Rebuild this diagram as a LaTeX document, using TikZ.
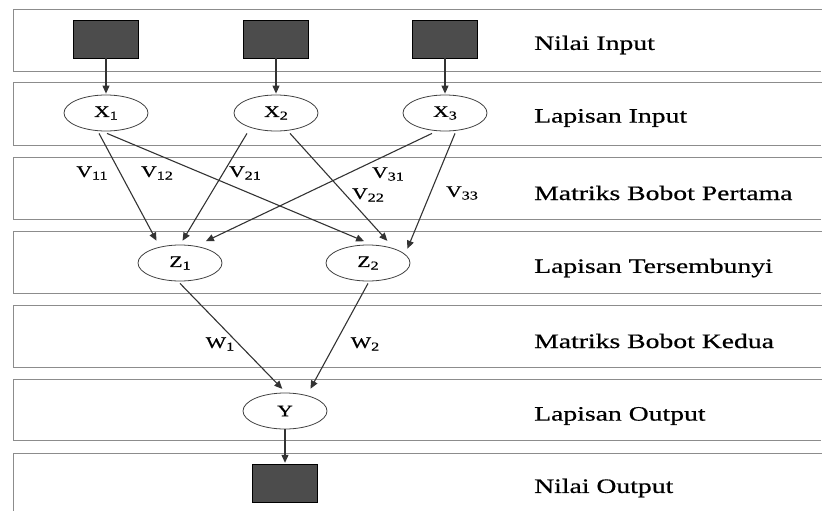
\documentclass[tikz,border=0pt]{standalone}
\usepackage{fontspec}
\setmainfont{Liberation Serif}[FakeStretch=1.35,FakeBold=0.6]
\usetikzlibrary{shapes.geometric,arrows.meta,positioning}
\newcommand{\idx}[1]{\raisebox{-0.35ex}{\fontsize{12}{12}\selectfont #1}}

\begin{document}
\begin{tikzpicture}[
    x=1pt, y=-1pt,
    >={Triangle[length=8pt,width=7pt]},
    shorten >=1pt,
    node distance=74pt,
    on grid,
    band/.style={draw=black!45, line width=0.7pt},
    inbox/.style={draw=black, fill=black!70, minimum width=65pt, minimum height=38pt, inner sep=0pt},
    neuron/.style={ellipse, draw=black!75, line width=0.8pt, minimum width=84pt, minimum height=36pt, inner sep=0pt, font=\fontsize{16}{18}\selectfont},
    weight/.style={inner sep=0pt, font=\fontsize{16}{18}\selectfont},
    layer/.style={anchor=west, inner sep=0pt, font=\fontsize{20.5}{24}\selectfont}]
    \useasboundingbox (0,0) rectangle (822,512);
    % layer bands
    \foreach \ya/\yb in {9/71, 82/145, 157/219, 231/293, 305/367, 379/440}
        \draw[band] (822,\ya) -| (13,\yb) -- (822,\yb);
    \draw[band] (822,453) -| (13,512);
       % inputs
       \node[inbox] (in_1) at (106,39) {};
       \node[inbox] (in_2) at (276,39) {};
       \node[inbox] (in_3) at (445,39) {};
       \node[neuron] (X_1) [below=of in_1] {X\idx{1}};
       \node[neuron] (X_2) [below=of in_2] {X\idx{2}};
       \node[neuron] (X_3) [below=of in_3] {X\idx{3}};
       % hidden and output
       \node[neuron] (Z_1) at (180,263) {Z\idx{1}};
       \node[neuron] (Z_2) at (368,263) {Z\idx{2}};
       \node[neuron] (Y_1) at (285,411) {Y};
       \node[inbox] (out_1) [below=72pt of Y_1] {};
       % weights
       \node[weight] (v_11) at (92,173) {V\idx{11}};
       \node[weight] (v_12) at (157,173) {V\idx{12}};
       \node[weight] (v_21) at (245,173) {V\idx{21}};
       \node[weight] (v_31) at (388,174) {V\idx{31}};
       \node[weight] (v_22) at (368,195) {V\idx{22}};
       \node[weight] (v_33) at (462,193) {V\idx{33}};
       \node[weight] (w_1) at (220,344) {W\idx{1}};
       \node[weight] (w_2) at (365,344) {W\idx{2}};
       % layer names
       \node[layer] (lbl_1) at (534,45) {Nilai Input};
       \node[layer] (lbl_2) at (534,118) {Lapisan Input};
       \node[layer] (lbl_3) at (534,193) {Matriks Bobot Pertama};
       \node[layer] (lbl_4) at (534,268) {Lapisan Tersembunyi};
       \node[layer] (lbl_5) at (534,341) {Matriks Bobot Kedua};
       \node[layer] (lbl_6) at (534,416) {Lapisan Output};
       \node[layer] (lbl_7) at (534,488) {Nilai Output};
        \path[->, color=black!80, line width=1.1pt]
        (in_1) edge (X_1)
        (in_2) edge (X_2)
        (in_3) edge (X_3)
        ([xshift=-7pt,yshift=-2pt]X_1.south) edge ([xshift=-23pt,yshift=3pt]Z_1.north)
        ([xshift=1pt,yshift=-2pt]X_1.south)  edge ([xshift=-3pt,yshift=3pt]Z_2.north)
        ([xshift=-29pt,yshift=-2pt]X_2.south) edge ([xshift=2pt,yshift=3pt]Z_1.north)
        ([xshift=14pt,yshift=-2pt]X_2.south) edge ([xshift=20pt,yshift=3pt]Z_2.north)
        ([xshift=-13pt,yshift=-2pt]X_3.south) edge ([xshift=25pt,yshift=3pt]Z_1.north)
        ([xshift=10pt,yshift=-2pt]X_3.south) edge ([xshift=39pt,yshift=-5pt]Z_2.north)
        ([yshift=-2pt]Z_1.south) edge ([xshift=-2pt,yshift=3pt]Y_1.north)
        ([yshift=-2pt]Z_2.south) edge ([xshift=25pt,yshift=3pt]Y_1.north)
        (Y_1) edge (out_1)
        ;
    \end{tikzpicture}
\end{document}
